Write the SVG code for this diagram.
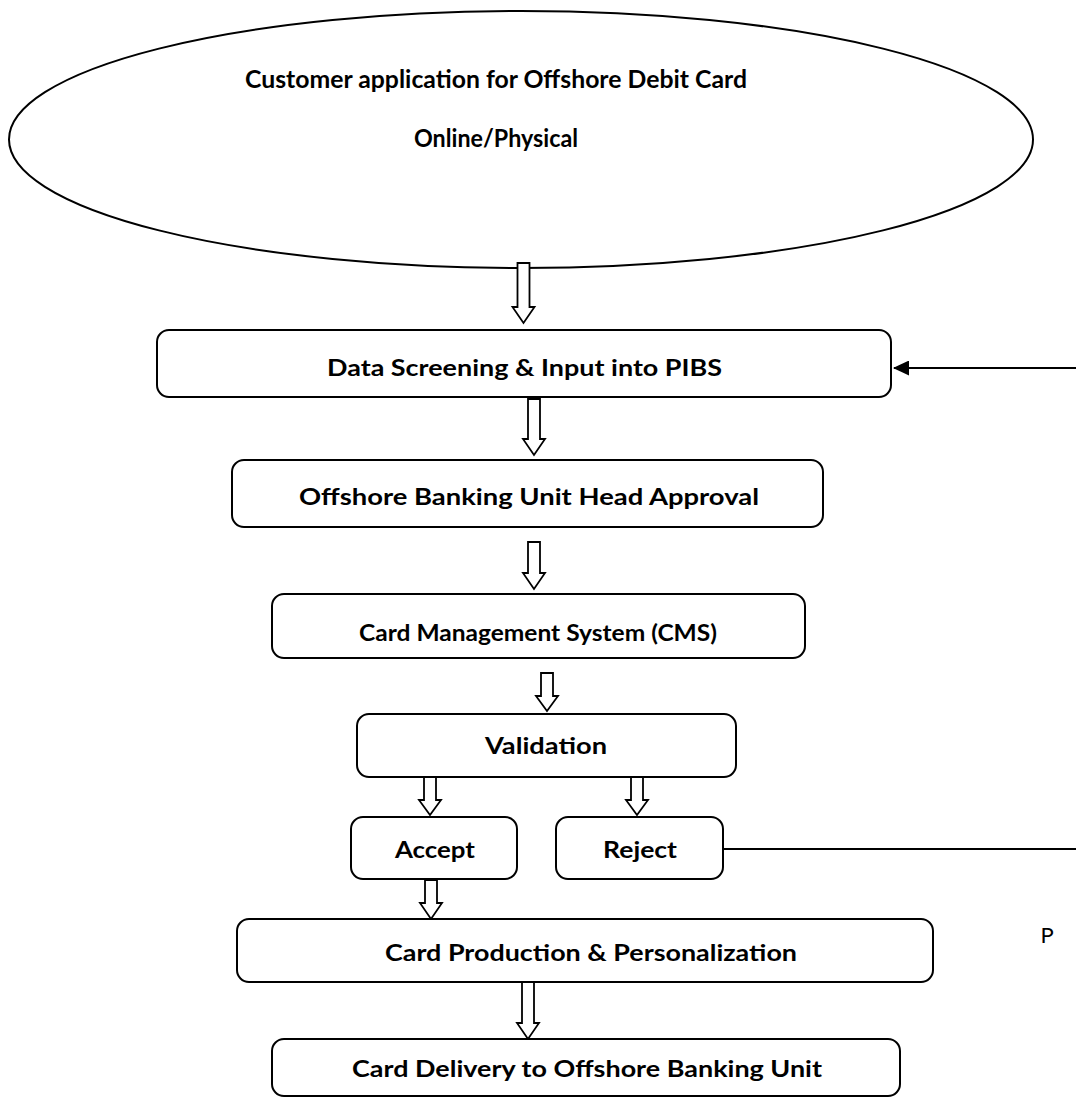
<svg xmlns="http://www.w3.org/2000/svg" width="1076" height="1100" viewBox="0 0 1076 1100">
  <style>
    .box { fill: #fff; stroke: #000; stroke-width: 2; }
    .lbl { font-family: Lato, "Open Sans", "Liberation Sans", sans-serif; font-weight: bold; font-size: 22px; fill: #000; text-anchor: middle; }
    .big { font-size: 24px; }
    .flow { fill: #fff; stroke: #000; stroke-width: 1.8; stroke-linejoin: miter; }
    .wire { fill: none; stroke: #000; stroke-width: 2; }
  </style>
  <defs>
    <marker id="head" markerWidth="16" markerHeight="15" refX="15" refY="7.5" orient="auto" markerUnits="userSpaceOnUse" viewBox="0 0 16 15">
      <path d="M0,0 L16,7.5 L0,15 Z" fill="#000"/>
    </marker>
  </defs>
  <rect width="1076" height="1100" fill="#fff"/>

  <g id="start">
    <ellipse class="box" cx="521" cy="139.5" rx="512" ry="128.5"/>
    <text class="lbl big" x="496" y="88" textLength="502" lengthAdjust="spacingAndGlyphs">Customer application for Offshore Debit Card</text>
    <text class="lbl big" x="496" y="147" textLength="164" lengthAdjust="spacingAndGlyphs">Online/Physical</text>
  </g>

  <g id="connectors">
    <polygon class="flow" points="517.5,263 529.5,263 529.5,307 534.5,307 523.5,323 512.5,307 517.5,307"/>
    <polygon class="flow" points="528,399 540,399 540,439 545,439 534,455 523,439 528,439"/>
    <polygon class="flow" points="528,542 540,542 540,573 545,573 534,589 523,573 528,573"/>
    <polygon class="flow" points="541,673 553,673 553,696 558,696 547,711 536,696 541,696"/>
    <polygon class="flow" points="424,777 436,777 436,800 441,800 430,815 419,800 424,800"/>
    <polygon class="flow" points="631,777 643,777 643,800 648,800 637,815 626,800 631,800"/>
    <polygon class="flow" points="425,880 437,880 437,903 442,903 431,919 420,903 425,903"/>
    <polygon class="flow" points="522,982 534,982 534,1023 539,1023 528,1039 517,1023 522,1023"/>
    <line class="wire" x1="1076" y1="368" x2="894" y2="368" marker-end="url(#head)"/>
    <line class="wire" x1="723" y1="849" x2="1076" y2="849"/>
  </g>

  <g id="screening">
    <rect class="box" x="157" y="330" width="734" height="67" rx="12"/>
    <text class="lbl" x="524.5" y="376" textLength="395" lengthAdjust="spacingAndGlyphs">Data Screening &amp; Input into PIBS</text>
  </g>

  <g id="approval">
    <rect class="box" x="232" y="460" width="591" height="67" rx="12"/>
    <text class="lbl" x="529" y="505" textLength="460" lengthAdjust="spacingAndGlyphs">Offshore Banking Unit Head Approval</text>
  </g>

  <g id="cms">
    <rect class="box" x="272" y="594" width="533" height="64" rx="12"/>
    <text class="lbl" x="538" y="641" textLength="358" lengthAdjust="spacingAndGlyphs">Card Management System (CMS)</text>
  </g>

  <g id="validation">
    <rect class="box" x="357" y="714" width="379" height="63" rx="12"/>
    <text class="lbl" x="546" y="754" textLength="122" lengthAdjust="spacingAndGlyphs">Validation</text>
  </g>

  <g id="accept">
    <rect class="box" x="351" y="817" width="166" height="62" rx="12"/>
    <text class="lbl" x="435" y="858" textLength="80" lengthAdjust="spacingAndGlyphs">Accept</text>
  </g>

  <g id="reject">
    <rect class="box" x="556" y="817" width="167" height="62" rx="12"/>
    <text class="lbl" x="640" y="858" textLength="74" lengthAdjust="spacingAndGlyphs">Reject</text>
  </g>

  <g id="production">
    <rect class="box" x="237" y="919" width="696" height="63" rx="12"/>
    <text class="lbl" x="591" y="961" textLength="412" lengthAdjust="spacingAndGlyphs">Card Production &amp; Personalization</text>
  </g>

  <g id="delivery">
    <rect class="box" x="272" y="1039" width="628" height="57" rx="12"/>
    <text class="lbl" x="587" y="1077" textLength="470" lengthAdjust="spacingAndGlyphs">Card Delivery to Offshore Banking Unit</text>
  </g>

  <text class="lbl" x="1047" y="943" style="font-weight:normal">P</text>
</svg>
